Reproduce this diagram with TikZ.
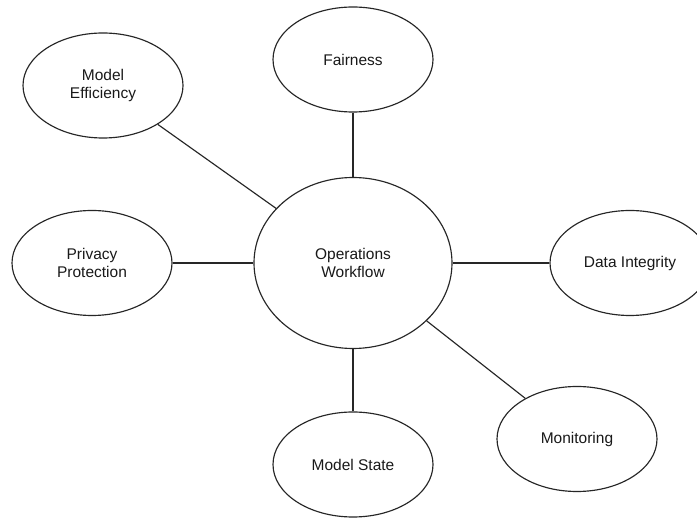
\documentclass[tikz,border=0pt]{standalone}
\usepackage{fontspec}
\setmainfont{Liberation Sans}
\usetikzlibrary{shapes.geometric}
\begin{document}
\begin{tikzpicture}[x=1pt,y=-1pt,
  topic/.style={draw=black!85, line width=1.15pt, ellipse, inner sep=0pt,
    minimum width=160pt, minimum height=105pt, align=center,
    font=\fontsize{15.5}{18.5}\selectfont, text=black!90},
  hub/.style={topic, minimum width=198pt, minimum height=171pt},
  link/.style={draw=black!85, line width=1.15pt}]
\useasboundingbox[fill=white] (0,0) rectangle (697,518);
\node[hub]   (ow) at (353,263) {Operations\\Workflow};
\node[topic] (fa) at (353,59.5) {Fairness};
\node[topic] (me) at (103,85.5) {Model\\Efficiency};
\node[topic] (pp) at (92,263) {Privacy\\Protection};
\node[topic] (di) at (630,263) {Data Integrity};
\node[topic] (mo) at (577,439) {Monitoring};
\node[topic] (ms) at (353,464.5) {Model State};
\draw[link] (fa) -- (ow);
\draw[link] (ms) -- (ow);
\draw[link] (pp.east) -- (ow.west);
\draw[link] (di.west) -- (ow.east);
\draw[link] (me) -- (ow);
\draw[link] (mo) -- (ow);
\end{tikzpicture}
\end{document}
